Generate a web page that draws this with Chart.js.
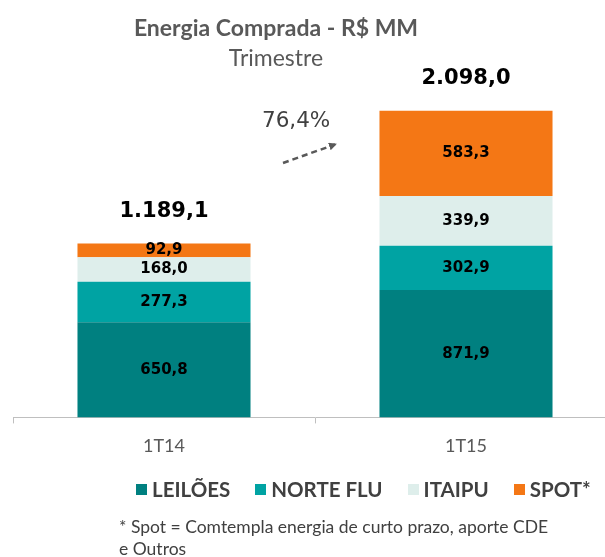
<!DOCTYPE html>
<html><head><meta charset="utf-8">
<script src="https://cdn.jsdelivr.net/npm/chart.js@4"></script>
<style>
html,body{margin:0;padding:0;width:605px;height:557px;overflow:hidden;background:#fff;}
#wrap{position:absolute;left:0;top:0;width:640px;height:470px;}
.t{position:absolute;font-family:Lato,"Open Sans",sans-serif;white-space:nowrap;}
#legend{position:absolute;left:136px;top:477px;display:flex;align-items:center;font-family:Lato,sans-serif;font-weight:bold;font-size:20.5px;color:#404040;white-space:nowrap;}
#legend .it{display:flex;align-items:center;margin-right:25px;}
#legend .mk{width:11px;height:11px;margin-right:5px;}
</style></head><body>
<div id="wrap"><canvas id="c" width="640" height="470"></canvas></div>
<div class="t" style="left:0;width:552px;text-align:center;top:13px;line-height:28px;font-size:23px;font-weight:bold;color:#595959;">Energia Comprada - R$ MM</div>
<div class="t" style="left:0;width:552px;text-align:center;top:44px;line-height:26px;font-size:23px;color:#595959;">Trimestre</div>
<div id="growth" class="t" style="left:262px;top:107px;line-height:26px;font-family:'DejaVu Sans',sans-serif;font-size:21.5px;color:#404040;"></div>
<svg style="position:absolute;left:0;top:0" width="605" height="557">
  <defs><marker id="ah" markerWidth="8" markerHeight="8" refX="6" refY="4" orient="auto" markerUnits="userSpaceOnUse"><path d="M0,0 L8,4 L0,8 Z" fill="#595959"/></marker></defs>
  <line x1="283" y1="163" x2="335" y2="144.5" stroke="#595959" stroke-width="2.5" stroke-dasharray="6,4" marker-end="url(#ah)"/>
</svg>
<div id="legend"></div>
<div class="t" style="left:119px;top:516px;line-height:22px;font-size:17.5px;color:#404040;">* Spot = Comtempla energia de curto prazo, aporte CDE<br>e Outros</div>
<script>
// ---- data ----
const categories = ['1T14', '1T15'];
const seriesNames = ['LEILÕES', 'NORTE FLU', 'ITAIPU', 'SPOT*'];
const leiloes = [650.8, 871.9];
const norteFlu = [277.3, 302.9];
const itaipu = [168.0, 339.9];
const spot = [92.9, 583.3];
const totals = [1189.1, 2098.0];
const growthText = '76,4%';
// ---- style ----
const seriesColors = ['#008080', '#00A3A3', '#DEEEEB', '#F47715'];

function fmt(v){
  const s = v.toFixed(1).split('.');
  const int = s[0].replace(/\B(?=(\d{3})+(?!\d))/g, '.');
  return int + ',' + s[1];
}

document.getElementById('growth').textContent = growthText;

const seriesValues = [leiloes, norteFlu, itaipu, spot];
const datasets = seriesNames.map((n,i)=>({
  label:n, data:seriesValues[i], backgroundColor:seriesColors[i],
  borderWidth:0, barPercentage:0.573, categoryPercentage:1
}));

const lg = document.getElementById('legend');
seriesNames.forEach((n,i)=>{
  const it = document.createElement('div'); it.className='it';
  const mk = document.createElement('div'); mk.className='mk'; mk.style.background=seriesColors[i];
  const tx = document.createElement('span'); tx.textContent=n;
  it.appendChild(mk); it.appendChild(tx); lg.appendChild(it);
});

const labelPlugin = {
  id:'lbl',
  afterDatasetsDraw(chart){
    const ctx = chart.ctx;
    ctx.save();
    ctx.textAlign='center'; ctx.textBaseline='middle'; ctx.fillStyle='#000';
    ctx.font='bold 15px "DejaVu Sans"';
    chart.data.datasets.forEach((ds,i)=>{
      chart.getDatasetMeta(i).data.forEach((bar,j)=>{
        ctx.fillText(fmt(ds.data[j]), bar.x, (bar.y+bar.base)/2);
      });
    });
    ctx.font='bold 21px "DejaVu Sans"';
    chart.getDatasetMeta(chart.data.datasets.length-1).data.forEach((bar,j)=>{
      ctx.fillText(fmt(totals[j]), bar.x, bar.y-32);
    });
    ctx.restore();
  }
};

new Chart(document.getElementById('c'), {
  type:'bar',
  data:{labels:categories, datasets},
  plugins:[labelPlugin],
  options:{
    responsive:false, maintainAspectRatio:false, animation:false,
    layout:{padding:{left:13,right:23,top:52,bottom:1}},
    plugins:{legend:{display:false},tooltip:{enabled:false},title:{display:false}},
    scales:{
      x:{stacked:true, offset:true,
        grid:{display:true, drawOnChartArea:false, drawTicks:true, tickLength:6, color:'#BFBFBF', offset:true},
        border:{display:true, color:'#BFBFBF', width:1},
        ticks:{color:'#595959', font:{family:'Lato', size:18}, padding:12}
      },
      y:{stacked:true, display:false, min:0, max:2500}
    }
  }
});
</script>
</body></html>
